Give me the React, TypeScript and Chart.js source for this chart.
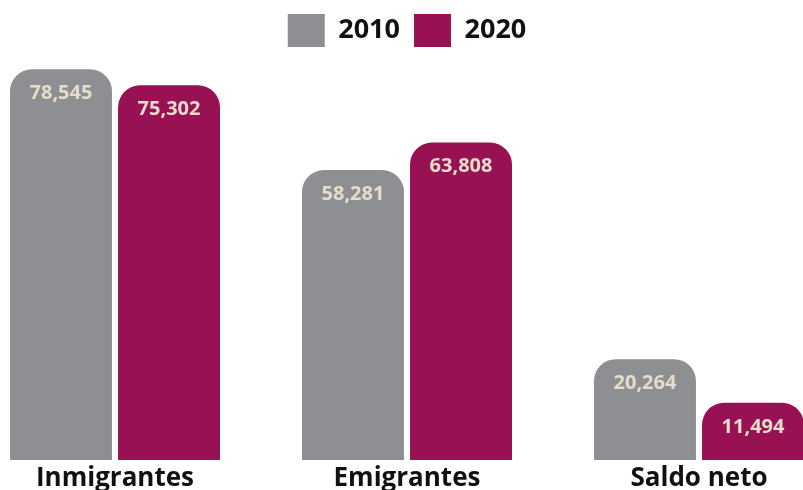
import React, { useEffect, useRef } from "react";
import { Chart, registerables } from "chart.js";

Chart.register(...registerables);

const categories = ["Inmigrantes", "Emigrantes", "Saldo neto"];
const seriesNames = ["2010", "2020"];
const values2010 = [78545, 58281, 20264];
const values2020 = [75302, 63808, 11494];

const GREY = "#8e8f93";
const MAGENTA = "#981153";
const LABEL = "#e6dccb";
const FONT = "'Open Sans', sans-serif";

const valueLabels = {
  id: "valueLabels",
  afterDatasetsDraw(chart: any) {
    const ctx = chart.ctx;
    ctx.save();
    ctx.font = `bold 20px ${FONT}`;
    ctx.fillStyle = LABEL;
    ctx.textAlign = "center";
    ctx.textBaseline = "middle";
    chart.data.datasets.forEach((ds: any, di: number) => {
      const meta = chart.getDatasetMeta(di);
      meta.data.forEach((el: any, i: number) => {
        const v = ds.data[i] as number;
        ctx.fillText(v.toLocaleString("en-US"), el.x, el.y + 24);
      });
    });
    ctx.restore();
  },
};

export default function App() {
  const ref = useRef<HTMLCanvasElement>(null);
  useEffect(() => {
    if (!ref.current) return;
    const chart = new Chart(ref.current, {
      type: "bar",
      data: {
        labels: categories,
        datasets: [
          {
            label: seriesNames[0],
            data: values2010,
            backgroundColor: GREY,
            borderRadius: 22,
            borderSkipped: "bottom",
            barPercentage: 0.944,
            categoryPercentage: 0.74,
          },
          {
            label: seriesNames[1],
            data: values2020,
            backgroundColor: MAGENTA,
            borderRadius: 22,
            borderSkipped: "bottom",
            barPercentage: 0.944,
            categoryPercentage: 0.74,
          },
        ],
      },
      options: {
        animation: false,
        responsive: true,
        maintainAspectRatio: false,
        layout: { padding: { top: 0, bottom: 0, left: 0, right: 0 } },
        plugins: {
          legend: {
            position: "top",
            labels: {
              boxWidth: 37,
              boxHeight: 33,
              padding: 14,
              color: "#111",
              font: { family: FONT, size: 27, weight: "bold" },
            },
          },
          tooltip: { enabled: false },
        },
        scales: {
          x: {
            grid: { display: false, drawTicks: false },
            border: { display: false },
            afterFit: (scale: any) => {
              scale.height = 30;
            },
            ticks: {
              color: "#111",
              padding: 3,
              font: { family: FONT, size: 26, weight: "bold" },
            },
          },
          y: {
            display: false,
            min: 0,
            max: 81000,
          },
        },
      },
      plugins: [valueLabels],
    });
    return () => chart.destroy();
  }, []);
  return (
    <div
      style={{
        position: "fixed",
        left: 0,
        top: 0,
        width: 803,
        height: 490,
        overflow: "hidden",
        background: "#fff",
      }}
    >
      <div
        style={{
          position: "absolute",
          left: -31,
          top: 0,
          width: 876,
          height: 490,
        }}
      >
        <canvas ref={ref} />
      </div>
    </div>
  );
}
